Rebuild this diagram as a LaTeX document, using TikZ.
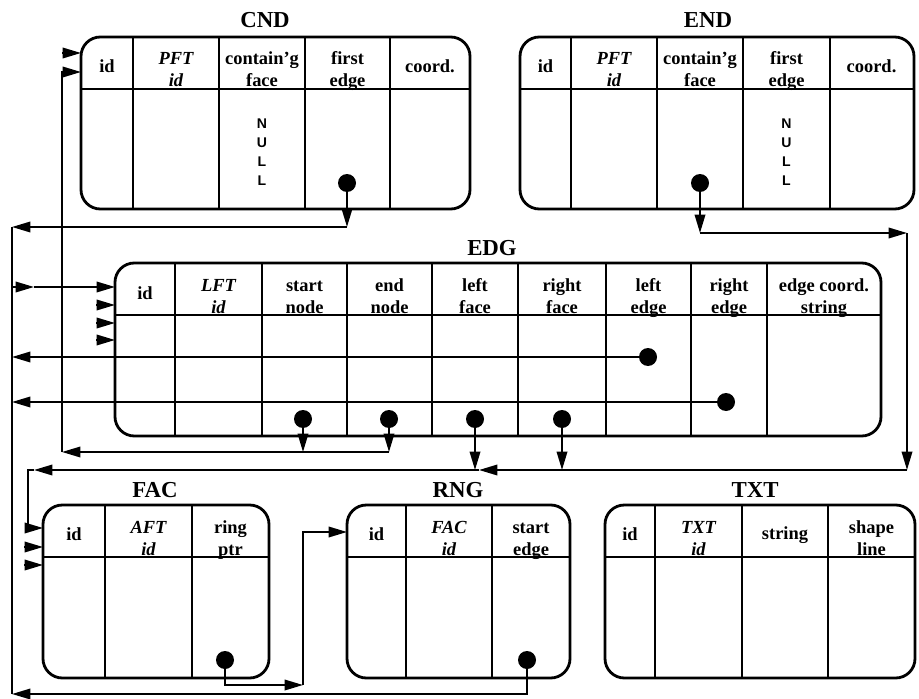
\documentclass[tikz,border=0pt]{standalone}
\usepackage{fontspec}
\setmainfont{Liberation Serif}
\newfontfamily\nilfont{Liberation Sans}
\usetikzlibrary{arrows.meta}

\begin{document}
\begin{tikzpicture}[
    x=0.02cm, y=-0.02cm,
    frame/.style={draw, line width=1.6pt, rounded corners=11pt},
    col/.style={line width=1.3pt},
    hdr/.style={align=center, inner sep=0pt,
                font=\fontsize{10.5}{12.5}\selectfont\bfseries,
                text height=21.25pt, text depth=3.75pt},
    hdrone/.style={hdr, text height=8.75pt},
    ihdr/.style={hdr, font=\fontsize{10.5}{12.5}\selectfont\bfseries\itshape},
    title/.style={inner sep=0pt, font=\fontsize{13}{14}\selectfont\bfseries},
    nil/.style={align=center, inner sep=0pt,
                font=\fontsize{8}{10.8}\selectfont\nilfont\bfseries},
    ptr/.style={circle, fill, inner sep=0pt, minimum size=0.36cm},
    arrow/.style={-{Triangle[length=10.5pt,width=6pt]}, line width=1.1pt},
    link/.style={line width=1.1pt},
]
\useasboundingbox (0,0) rectangle (919,699);

% CND
\node[title] (cnd) at (265,20) {CND};
\draw[frame] (81,37) rectangle (470,209);
\draw[col] (81,89) -- (470,89);
\foreach \x in {133,219,305,390} \draw[col] (\x,37) -- (\x,209);
\node[hdrone] (cnd-id) at (107,68) {id};
\node[ihdr]   (cnd-pft) at (176,71) {PFT\\id};
\node[hdr]    (cnd-cf) at (262,71) {contain'g\\face};
\node[hdr]    (cnd-fe) at (347.5,71) {first\\edge};
\node[hdrone] (cnd-xy) at (430,68) {coord.};
\node[nil]    (cnd-null) at (262,152) {N\\U\\L\\L};

% END
\node[title] (end) at (708,20) {END};
\draw[frame] (520,37) rectangle (914,209);
\draw[col] (520,89) -- (914,89);
\foreach \x in {571,657,743,830} \draw[col] (\x,37) -- (\x,209);
\node[hdrone] (end-id) at (545.5,68) {id};
\node[ihdr]   (end-pft) at (614,71) {PFT\\id};
\node[hdr]    (end-cf) at (700,71) {contain'g\\face};
\node[hdr]    (end-fe) at (786.5,71) {first\\edge};
\node[hdrone] (end-xy) at (871.5,68) {coord.};
\node[nil]    (end-null) at (786.5,152) {N\\U\\L\\L};

% EDG
\node[title] (edg) at (492,248) {EDG};
\draw[frame] (115,263) rectangle (881,436);
\draw[col] (115,315) -- (881,315);
\foreach \x in {175,262,347,432,518,606,691,767} \draw[col] (\x,263) -- (\x,436);
\node[hdrone] (edg-id) at (145,295) {id};
\node[ihdr]   (edg-lft) at (218.5,298) {LFT\\id};
\node[hdr]    (edg-sn) at (304.5,298) {start\\node};
\node[hdr]    (edg-en) at (389.5,298) {end\\node};
\node[hdr]    (edg-lf) at (475,298) {left\\face};
\node[hdr]    (edg-rf) at (562,298) {right\\face};
\node[hdr]    (edg-le) at (648.5,298) {left\\edge};
\node[hdr]    (edg-re) at (729,298) {right\\edge};
\node[hdr]    (edg-xy) at (824,298) {edge coord.\\string};

% FAC
\node[title] (fac) at (155,490) {FAC};
\draw[frame] (43,505) rectangle (269,678);
\draw[col] (43,557) -- (269,557);
\foreach \x in {105,192} \draw[col] (\x,505) -- (\x,678);
\node[hdrone] (fac-id) at (74,536) {id};
\node[ihdr]   (fac-aft) at (148.5,540) {AFT\\id};
\node[hdr]    (fac-rp) at (230.5,540) {ring\\ptr};

% RNG
\node[title] (rng) at (458,490) {RNG};
\draw[frame] (347,505) rectangle (570,678);
\draw[col] (347,557) -- (570,557);
\foreach \x in {406,492} \draw[col] (\x,505) -- (\x,678);
\node[hdrone] (rng-id) at (376.5,536) {id};
\node[ihdr]   (rng-fac) at (449,540) {FAC\\id};
\node[hdr]    (rng-se) at (531,540) {start\\edge};

% TXT
\node[title] (txt) at (755,490) {TXT};
\draw[frame] (605,505) rectangle (915,678);
\draw[col] (605,557) -- (915,557);
\foreach \x in {655,742,828} \draw[col] (\x,505) -- (\x,678);
\node[hdrone] (txt-id) at (630,536) {id};
\node[ihdr]   (txt-txt) at (698.5,540) {TXT\\id};
\node[hdrone] (txt-st) at (785,535) {string};
\node[hdr]    (txt-sl) at (871.5,540) {shape\\line};

% pointers
\node[ptr] (p-cfe) at (347,183) {};
\node[ptr] (p-ecf) at (700,183) {};
\node[ptr] (p-le) at (648,357) {};
\node[ptr] (p-re) at (726,402) {};
\node[ptr] (p-sn) at (303,419) {};
\node[ptr] (p-en) at (389,419) {};
\node[ptr] (p-lf) at (475,419) {};
\node[ptr] (p-rf) at (562,419) {};
\node[ptr] (p-rp) at (225,660) {};
\node[ptr] (p-se) at (527,660) {};

% edge bus (left)
\coordinate (ebus-t) at (12,227);
\coordinate (ebus-b) at (12,694);
\coordinate (ebus-in) at (12,287);
\coordinate (ebus-m) at (34,287);
\coordinate (ebus-le) at (12,357);
\coordinate (ebus-re) at (12,402);
\coordinate (edg-in) at (115,287);
\coordinate (cfe-c) at (347,227);

% node bus
\coordinate (sn-c) at (303,452);
\coordinate (en-c) at (389,452);
\coordinate (nbus-b) at (62,452);
\coordinate (nbus-t) at (62,72);
\coordinate (cnd-in) at (81,72);
\coordinate (cnd-in2) at (81,53);

% face bus
\coordinate (ecf-c) at (700,233);
\coordinate (fbus-tr) at (907,233);
\coordinate (fbus-r) at (907,470);
\coordinate (fbus-m) at (479,470);
\coordinate (fbus-l) at (34,470);
\coordinate (fbus-c) at (28,470);
\coordinate (lf-c) at (475,470);
\coordinate (rf-c) at (562,470);
\coordinate (fac-in) at (43,528);
\coordinate (fac-in2) at (43,547);
\coordinate (fac-in3) at (43,565);

% ring
\coordinate (rp-c) at (303,685);
\coordinate (rng-in) at (347,532);

% edges into EDG
\draw[arrow] (p-cfe) -- (cfe-c);
\draw[arrow] (cfe-c) -- (ebus-t);
\draw[link] (ebus-t) -- (ebus-b);
\draw[arrow] (p-le) -- (ebus-le);
\draw[arrow] (p-re) -- (ebus-re);
\draw[arrow] (p-se) |- (ebus-b);
\draw[arrow] (ebus-in) -- (ebus-m);
\draw[arrow] (ebus-m) -- (edg-in);
\draw[arrow] ([xshift=-0.38cm]115,305) -- (115,305);
\draw[arrow] ([xshift=-0.38cm]115,323) -- (115,323);
\draw[arrow] ([xshift=-0.38cm]115,340) -- (115,340);

% nodes into CND
\draw[arrow] (p-sn) -- (sn-c);
\draw[arrow] (p-en) -- (en-c);
\draw[arrow] (en-c) -- (nbus-b);
\draw[arrow] (nbus-b) -- (nbus-t) -- (cnd-in);
\draw[arrow] ([xshift=-0.38cm]cnd-in2) -- (cnd-in2);

% faces into FAC
\draw[arrow] (p-lf) -- (lf-c);
\draw[arrow] (p-rf) -- (rf-c);
\draw[arrow] (p-ecf) -- (ecf-c);
\draw[arrow] (ecf-c) -- (fbus-tr);
\draw[arrow] (fbus-tr) -- (fbus-r);
\draw[arrow] (fbus-r) -- (fbus-m);
\draw[arrow] (fbus-m) -- (fbus-l);
\draw[arrow] (fbus-l) -- (fbus-c) |- (fac-in);
\draw[arrow] ([xshift=-0.38cm]fac-in2) -- (fac-in2);
\draw[arrow] ([xshift=-0.38cm]fac-in3) -- (fac-in3);

% ring into RNG
\draw[arrow] (p-rp) |- (rp-c);
\draw[arrow] (rp-c) |- (rng-in);
\end{tikzpicture}
\end{document}
